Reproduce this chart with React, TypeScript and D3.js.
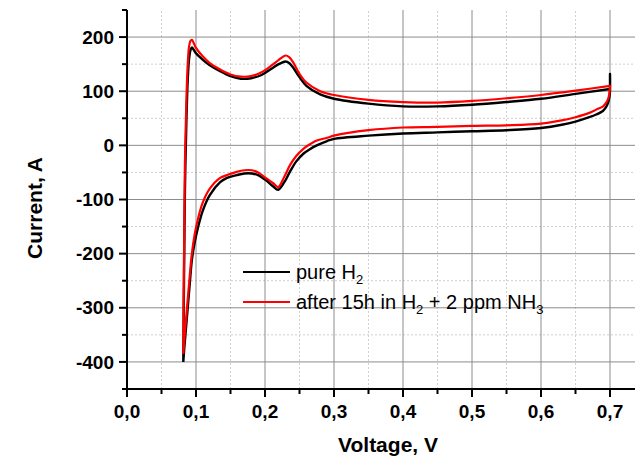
import React from "react";
import * as d3 from "d3";

const W = 635;
const H = 460;

// anodic sweep (0.08 V -> 0.7 V)
const anodicV = [0.0816, 0.082, 0.083, 0.084, 0.086, 0.088, 0.09, 0.092, 0.094, 0.097, 0.1, 0.11, 0.12, 0.135, 0.15, 0.165, 0.18, 0.195, 0.21, 0.22, 0.23, 0.235, 0.24, 0.25, 0.26, 0.28, 0.3, 0.35, 0.4, 0.45, 0.5, 0.55, 0.6, 0.65, 0.7];
const pureAnodic = [-400, -330, -200, -80, 40, 120, 160, 176, 181, 176, 170, 158, 148, 137, 128, 123, 124, 130, 142, 150, 155, 152, 145, 126, 110, 94, 86, 77, 72, 72, 75, 80, 86, 95, 104];
const nh3Anodic = [-385, -300, -150, -30, 80, 150, 183, 193, 195, 188, 180, 164, 152, 140, 131, 127, 128, 135, 148, 158, 166, 163, 155, 132, 116, 100, 93, 84, 80, 79, 82, 87, 93, 101, 110];

// cathodic sweep (0.7 V -> 0.08 V)
const cathodicV = [0.7, 0.699, 0.697, 0.694, 0.69, 0.68, 0.67, 0.65, 0.63, 0.6, 0.55, 0.5, 0.45, 0.4, 0.35, 0.3, 0.29, 0.275, 0.265, 0.256, 0.245, 0.236, 0.228, 0.219, 0.212, 0.202, 0.19, 0.181, 0.17, 0.159, 0.145, 0.135, 0.12, 0.11, 0.103, 0.098, 0.094, 0.091, 0.088, 0.085, 0.083, 0.0816];
const pureCathodic = [100, 88, 78, 70, 64, 57, 52, 44, 38, 32, 28, 26, 24, 22, 18, 12, 8, 0, -7, -15, -30, -49, -68, -82, -76, -65, -55, -52, -52, -55, -60, -68, -92, -120, -151, -180, -212, -255, -300, -345, -375, -400];
const nh3Cathodic = [110, 95, 85, 78, 72, 66, 60, 52, 46, 40, 37, 36, 34, 33, 28, 18, 14, 9, 2, -6, -20, -37, -58, -77, -70, -61, -50, -46, -46, -49, -55, -60, -80, -105, -135, -165, -200, -240, -285, -330, -360, -385];

// spike of the black trace at the turning point
const spikeV = [0.7, 0.7];
const pureSpike = [104, 132];

const xMajor = [0, 0.1, 0.2, 0.3, 0.4, 0.5, 0.6, 0.7];
const xMinor = [0.05, 0.15, 0.25, 0.35, 0.45, 0.55, 0.65, 0.75];
const yMajor = [-400, -300, -200, -100, 0, 100, 200];
const yMinor = [-450, -350, -250, -150, -50, 50, 150, 250];

const FONT = "Liberation Sans, Arial, sans-serif";

export default function App() {
  const x = d3.scaleLinear().domain([0, 0.75]).range([127, 644.5]);
  const y = d3.scaleLinear().domain([-450, 250]).range([389, 10]);

  const line = d3
    .line<[number, number]>()
    .x((d) => x(d[0]))
    .y((d) => y(d[1]))
    .curve(d3.curveCatmullRom.alpha(0.5));

  const pts = (v: number[], c: number[]) => v.map((d, i) => [d, c[i]] as [number, number]);

  const pure = [...pts(anodicV, pureAnodic), ...pts(spikeV, pureSpike), ...pts(cathodicV, pureCathodic)];
  const nh3 = [...pts(anodicV, nh3Anodic), ...pts(cathodicV, nh3Cathodic)];

  const fmt = (v: number) => d3.format(".1f")(v).replace(".", ",");
  const x0 = x(0);
  const yb = y(-450);

  return (
    <svg width={W} height={H} style={{ position: "absolute", left: 0, top: 0, background: "#fff" }}>
      {/* grid */}
      <g>
        {xMinor.map((t) => (
          <line key={"xm" + t} x1={x(t)} x2={x(t)} y1={yb} y2={y(250)} stroke="#cfcfcf" strokeDasharray="2,2" />
        ))}
        {yMinor.filter((t) => t > -450 && t < 250).map((t) => (
          <line key={"ym" + t} x1={x0} x2={W} y1={y(t)} y2={y(t)} stroke="#cfcfcf" strokeDasharray="2,2" />
        ))}
        {xMajor.filter((t) => t > 0).map((t) => (
          <line key={"xg" + t} x1={x(t)} x2={x(t)} y1={yb} y2={y(250)} stroke="#8c8c8c" />
        ))}
        {yMajor.map((t) => (
          <line key={"yg" + t} x1={x0} x2={W} y1={y(t)} y2={y(t)} stroke="#8c8c8c" />
        ))}
      </g>

      {/* data */}
      <path d={line(pure) || ""} fill="none" stroke="#000" strokeWidth={2.4} strokeLinejoin="round" />
      <path d={line(nh3) || ""} fill="none" stroke="#ff0000" strokeWidth={2.2} strokeLinejoin="round" />

      {/* axes */}
      <g stroke="#000" strokeWidth={2}>
        <line x1={x0} x2={x0} y1={yb + 1} y2={y(250)} />
        <line x1={x0 - 1} x2={W} y1={yb} y2={yb} />
        {yMajor.map((t) => (
          <line key={"yt" + t} x1={x0 - 8} x2={x0} y1={y(t)} y2={y(t)} />
        ))}
        {yMinor.map((t) => (
          <line key={"ymt" + t} x1={x0 - 5} x2={x0} y1={y(t)} y2={y(t)} />
        ))}
        {xMajor.map((t) => (
          <line key={"xt" + t} x1={x(t)} x2={x(t)} y1={yb} y2={yb + 8} />
        ))}
        {xMinor.map((t) => (
          <line key={"xmt" + t} x1={x(t)} x2={x(t)} y1={yb} y2={yb + 5} />
        ))}
      </g>

      <g fontFamily={FONT} fontWeight="bold" fontSize={19} fill="#000">
        {yMajor.map((t) => (
          <text key={"yl" + t} x={x0 - 13} y={y(t)} dy="0.35em" textAnchor="end">
            {t}
          </text>
        ))}
        {xMajor.map((t) => (
          <text key={"xl" + t} x={x(t)} y={418} textAnchor="middle">
            {fmt(t)}
          </text>
        ))}
        <text x={388} y={452} textAnchor="middle" fontSize={21}>
          Voltage, V
        </text>
        <text transform="translate(42,208) rotate(-90)" textAnchor="middle" fontSize={21}>
          Current, A
        </text>
      </g>

      {/* legend */}
      <g fontFamily={FONT} fontSize={20} fill="#000">
        <line x1={243} x2={290} y1={272} y2={272} stroke="#000" strokeWidth={2} />
        <text x={296} y={279}>
          pure H<tspan dy={5} fontSize={13}>2</tspan>
        </text>
        <line x1={243} x2={290} y1={302} y2={302} stroke="#ff0000" strokeWidth={2} />
        <text x={296} y={309}>
          after 15h in H<tspan dy={5} fontSize={13}>2</tspan>
          <tspan dy={-5}> + 2 ppm NH</tspan>
          <tspan dy={5} fontSize={13}>3</tspan>
        </text>
      </g>
    </svg>
  );
}
